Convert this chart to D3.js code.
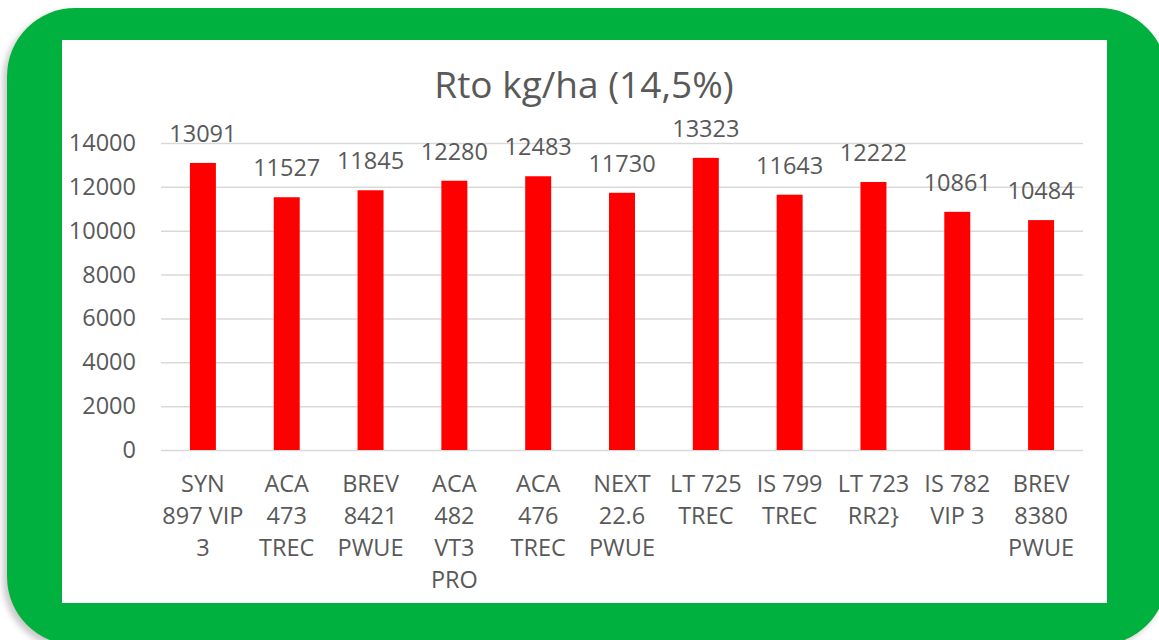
<!DOCTYPE html>
<html>
<head>
<meta charset="utf-8">
<script src="https://cdn.jsdelivr.net/npm/d3@7"></script>
<style>
  body { margin: 0; background: #fff; }
  svg { display: block; }
  text { font-family: "Open Sans", sans-serif; fill: #595959; }
</style>
</head>
<body>
<script>
// chart data
var title = 'Rto kg/ha (14,5%)';
var categories = [
  'SYN|897 VIP|3',
  'ACA|473|TREC',
  'BREV|8421|PWUE',
  'ACA|482|VT3|PRO',
  'ACA|476|TREC',
  'NEXT|22.6|PWUE',
  'LT 725|TREC',
  'IS 799|TREC',
  'LT 723|RR2}',
  'IS 782|VIP 3',
  'BREV|8380|PWUE'
];
var values = [13091, 11527, 11845, 12280, 12483, 11730, 13323, 11643, 12222, 10861, 10484];
var yTicks = [0, 2000, 4000, 6000, 8000, 10000, 12000, 14000];

var W = 1159, H = 640;
var svg = d3.select('body').append('svg').attr('width', W).attr('height', H);

// shadow for the green frame
var defs = svg.append('defs');
var f = defs.append('filter').attr('id', 'shadow')
  .attr('x', '-5%').attr('y', '-5%').attr('width', '110%').attr('height', '110%');
f.append('feDropShadow').attr('dx', -4).attr('dy', 4).attr('stdDeviation', 3)
  .attr('flood-color', '#888').attr('flood-opacity', 0.45);

// green frame + white chart area
svg.append('rect').attr('x', 7).attr('y', 8).attr('width', 1160).attr('height', 637)
  .attr('rx', 68).attr('ry', 68).attr('fill', '#00B140').attr('filter', 'url(#shadow)');
svg.append('rect').attr('x', 62).attr('y', 40).attr('width', 1045).attr('height', 563)
  .attr('fill', '#fff');

// title
svg.append('text').attr('x', 584).attr('y', 98).attr('text-anchor', 'middle')
  .style('font-size', '37px').text(title);

var x = d3.scaleBand().domain(categories).range([161, 1083])
  .paddingInner(0.69).paddingOuter(0.345);
var y = d3.scaleLinear().domain([0, 14000]).range([450, 143]);

// y axis with gridlines
var yAxis = svg.append('g').attr('transform', 'translate(161,0)')
  .call(d3.axisLeft(y).tickValues(yTicks).tickSize(-(1083 - 161)).tickPadding(25).tickFormat(d3.format('d')));
yAxis.select('.domain').remove();
yAxis.selectAll('.tick line').attr('stroke', '#d9d9d9').attr('stroke-width', 1.5);
yAxis.selectAll('.tick text').style('font-size', '23.5px').attr('fill', '#595959')
  .style('font-family', '"Open Sans", sans-serif');

// bars
svg.append('g').selectAll('rect').data(values).join('rect')
  .attr('x', function(d, i) { return x(categories[i]); })
  .attr('y', function(d) { return y(d); })
  .attr('width', x.bandwidth())
  .attr('height', function(d) { return y(0) - y(d); })
  .attr('fill', '#FF0000');

// value labels
svg.append('g').selectAll('text').data(values).join('text')
  .attr('x', function(d, i) { return x(categories[i]) + x.bandwidth() / 2; })
  .attr('y', function(d) { return y(d) - 21; })
  .attr('text-anchor', 'middle')
  .style('font-size', '23.5px')
  .text(function(d) { return d; });

// category labels
var cat = svg.append('g').selectAll('text').data(categories).join('text')
  .attr('text-anchor', 'middle')
  .style('font-size', '23.5px');
cat.each(function(d) {
  var t = d3.select(this);
  var cx = x(d) + x.bandwidth() / 2;
  d.split('|').forEach(function(line, k) {
    t.append('tspan').attr('x', cx).attr('y', 492 + k * 32).text(line);
  });
});
</script>
</body>
</html>
